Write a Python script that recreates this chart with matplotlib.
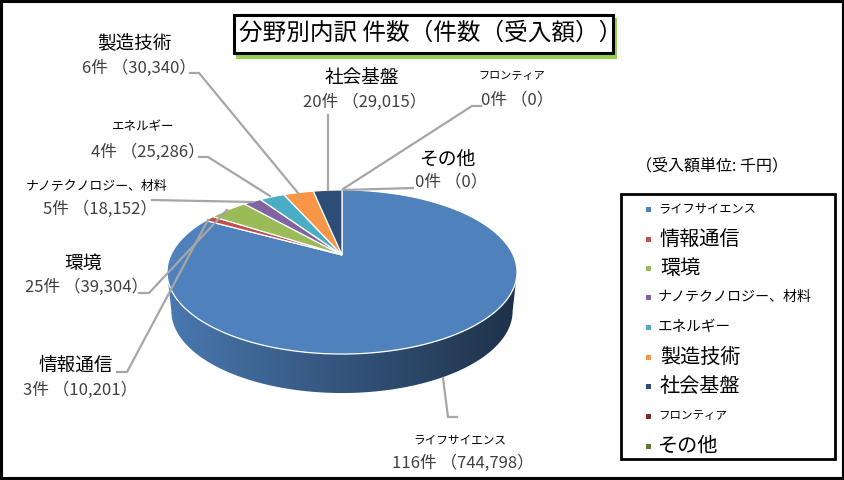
#import library
import numpy as np
import matplotlib
matplotlib.use("Agg")
import matplotlib.pyplot as plt
from matplotlib.patches import Rectangle, Polygon

plt.rcParams["font.family"] = ["Noto Sans CJK JP", "DejaVu Sans"]

#define datasets
categories = ["ライフサイエンス", "情報通信", "環境", "ナノテクノロジー、材料", "エネルギー",
              "製造技術", "社会基盤", "フロンティア", "その他"]
counts = [116, 3, 25, 5, 4, 6, 20, 0, 0]
amounts = [744798, 10201, 39304, 18152, 25286, 30340, 29015, 0, 0]
colors = ["#4f81bd", "#c0504d", "#9bbb59", "#8064a2", "#4bacc6",
          "#f79646", "#2c4d75", "#772c2a", "#5f7530"]

#label placement: name centre x, value centre x, name y, value y, name size, value size
label_pos = [
    (460, 463, 440, 463, 8.4, 12.0),
    (76, 80, 366, 390, 13.4, 12.0),
    (83, 87, 263, 287, 13.5, 12.0),
    (97, 100, 186, 209, 9.3, 12.0),
    (143, 148, 127, 152, 9.0, 12.0),
    (135, 139, 44, 68, 13.4, 12.0),
    (362, 365, 79, 102, 13.4, 12.0),
    (512, 517, 76, 100, 8.0, 12.0),
    (447, 451, 159, 182, 13.5, 12.0),
]

#leader lines in pixels
leaders = [
    [(443, 378), (448, 417), (457, 417)],
    [(117, 372), (127, 372), (208, 220)],
    [(139, 293), (149, 293), (227, 210)],
    [(152, 200), (253, 202)],
    [(199, 157), (208, 157), (270, 196)],
    [(190, 73), (199, 73), (298, 193)],
    [(328, 115), (328, 190)],
    [(481, 106), (472, 106), (343, 189)],
    [(413, 188), (343, 190)],
]

#legend settings
legend_y = [209, 239, 268, 297, 327, 357, 386, 416, 446]
legend_x = [658, 660, 660, 658, 658, 660, 660, 658, 658]
legend_size = [8.8, 14.5, 14.5, 10.1, 10.5, 14.5, 14.5, 8.3, 14.5]

#pie geometry in pixels
cx, cy = 342, 255
bx, by, k = 171.2, 78.5, 0.2073
depth = 39
bottom_scale = 0.975


def project(theta):
    x, y = np.sin(theta), np.cos(theta)
    return cx + bx * x / (1 + k * y), cy - by * y / (1 + k * y)


#define fig and plot size
fig = plt.figure(figsize=(8.45, 4.8), dpi=100)
ax = fig.add_axes([0, 0, 1, 1])

#pie slices
total = sum(amounts)
edges = np.concatenate([[0], np.cumsum(amounts)]) / total * 2 * np.pi

#side wall of the front, gradient clipped to its outline
front_a, front_b = np.arccos(-k), 2 * np.pi - np.arccos(-k)
for i, color in enumerate(colors):
    a, b = max(edges[i], front_a), min(edges[i + 1], front_b)
    if b <= a:
        continue
    grid = np.linspace(a, b, 200)
    xs, ys = project(grid)
    xl = cx + (xs - cx) * bottom_scale
    outline = Polygon(np.c_[np.r_[xs, xl[::-1]], np.r_[ys, ys[::-1] + depth]],
                      transform=ax.transData, fc="none", ec="none")
    ax.add_patch(outline)
    shade = np.linspace(0.93, 0.38, 256)[None, :, None]
    base = np.array(matplotlib.colors.to_rgb(color))[None, None, :]
    img = ax.imshow(base * shade, extent=(xs.min(), xs.max(), 400, 250), aspect="auto", zorder=5,
                    interpolation="bilinear")
    img.set_clip_path(outline)

ax.set_xlim(0, 845)
ax.set_ylim(480, 0)
ax.axis("off")

#outer frame
ax.add_patch(Rectangle((1, 1), 842, 477, fill=False, ec="black", lw=2.2))

#title box with green shadow
ax.add_patch(Rectangle((236, 18), 381, 41, fc="#92d050", ec="none", zorder=2))
ax.add_patch(Rectangle((234, 15), 379, 38, fc="white", ec="black", lw=2.2, zorder=3))
ax.text(239, 33.5, "分野別内訳 件数（件数（受入額））", fontsize=17, ha="left", va="center", zorder=4)

#top face
for i, color in enumerate(colors):
    if amounts[i] == 0:
        continue
    grid = np.linspace(edges[i], edges[i + 1], int(amounts[i] / total * 720) + 2)
    xs, ys = project(grid)
    ax.fill(np.r_[cx, xs], np.r_[cy, ys], fc=color, ec="white", lw=0.9, zorder=6)

#leader lines
for line in leaders:
    ax.plot([p[0] for p in line], [p[1] for p in line], color="#a6a6a6", lw=1.6, zorder=7,
            solid_joinstyle="miter")

#data labels
for name, c, a, (x1, x2, y1, y2, s1, s2) in zip(categories, counts, amounts, label_pos):
    ax.text(x1, y1, name, fontsize=s1, ha="center", va="center", color="black", zorder=8)
    ax.text(x2, y2, f"{c}件 （{a:,}）", fontsize=s2, ha="center", va="center", color="#404040", zorder=8)

#unit note
ax.text(712, 166, "（受入額単位: 千円）", fontsize=11.5, ha="center", va="center")

#legend
ax.add_patch(Rectangle((621, 194), 214, 265, fill=False, ec="black", lw=2))
for name, color, x, y, s in zip(categories, colors, legend_x, legend_y, legend_size):
    ax.add_patch(Rectangle((646.5, y - 2.5), 5, 5, fc=color, ec="none"))
    ax.text(x, y, name, fontsize=s, ha="left", va="center", color="black")

#save
fig.savefig("out.png", dpi=100)
